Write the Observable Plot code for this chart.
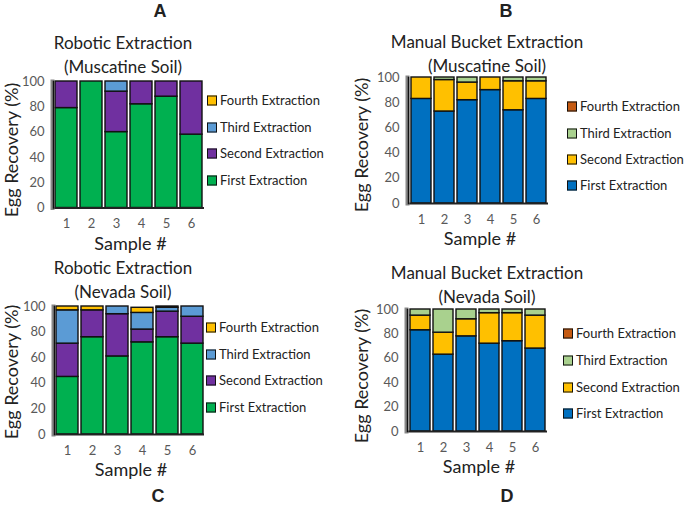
<!DOCTYPE html>
<html><head><meta charset="utf-8">
<script src="https://cdn.jsdelivr.net/npm/d3@7"></script>
<script src="https://cdn.jsdelivr.net/npm/@observablehq/plot@0.6"></script>
<style>
body{margin:0;background:#fff;}
#root{position:relative;width:685px;height:507px;overflow:hidden;font-family:Lato,"Open Sans",sans-serif;color:#222;}
.abs{position:absolute;white-space:nowrap;line-height:1;}
.letter{font-family:"Liberation Sans",Arial,sans-serif;font-weight:bold;font-size:18px;transform:translate(-50%,-50%);}
.title{font-size:17px;transform:translate(-50%,-50%);color:#222;}
.xl{font-size:18px;transform:translate(-50%,-50%);color:#222;}
.yl{font-size:18px;transform:translate(-50%,-50%) rotate(-90deg);color:#222;}
.leg{font-size:13px;color:#222;transform:translateY(-50%);display:flex;align-items:center;}
.sw{width:8px;height:8px;border:1px solid #111;margin-right:3px;display:inline-block;}
</style></head>
<body><div id="root"></div>
<script>
const samples = ["1","2","3","4","5","6"];
const seriesNames = ["First Extraction","Second Extraction","Third Extraction","Fourth Extraction"];
const roboticColors = ["#00B050","#7030A0","#5B9BD5","#FFC000"];
const manualColors = ["#0070C0","#FFC000","#A9D18E","#C55A11"];
const yTicks = [0,20,40,60,80,100];

// A: Robotic, Muscatine
const robMusFirst  = [79,100,60,82,88,58];
const robMusSecond = [21,0,32,18,12,42];
const robMusThird  = [0,0,8,0,0,0];
const robMusFourth = [0,0,0,0,0,0];
// B: Manual, Muscatine
const manMusFirst  = [83,73,82,90,74,83];
const manMusSecond = [17,25,14,10,23,14];
const manMusThird  = [0,2,4,0,3,3];
const manMusFourth = [0,0,0,0,0,0];
// C: Robotic, Nevada
const robNevFirst  = [45,76,61,72,76,71];
const robNevSecond = [26,21,33,10,20,21];
const robNevThird  = [26,0,6,13,3,8];
const robNevFourth = [3,3,0,4,1,0];
// D: Manual, Nevada
const manNevFirst  = [83,63,78,72,74,68];
const manNevSecond = [12,18,14,25,23,27];
const manNevThird  = [5,19,8,3,3,5];
const manNevFourth = [0,0,0,0,0,0];

const panels = [
  {letter:"A", lx:160, ly:11, title:["Robotic Extraction","(Muscatine Soil)"], tx:123, ty:42,
   series:[robMusFirst,robMusSecond,robMusThird,robMusFourth], colors:roboticColors,
   left:53, right:204, y0:207.5, y100:81, legX:207, legY:[100,127,153,180], ylx:11, yly:150},
  {letter:"B", lx:506, ly:11, title:["Manual Bucket Extraction","(Muscatine Soil)"], tx:487, ty:41,
   series:[manMusFirst,manMusSecond,manMusThird,manMusFourth], colors:manualColors,
   left:408, right:548, y0:203, y100:77, legX:567, legY:[106,133,159,185], ylx:361, yly:145},
  {letter:"C", lx:158, ly:496, title:["Robotic Extraction","(Nevada Soil)"], tx:123, ty:267,
   series:[robNevFirst,robNevSecond,robNevThird,robNevFourth], colors:roboticColors,
   left:54, right:204, y0:434, y100:306, legX:206, legY:[327,354,380,407], ylx:11, yly:372},
  {letter:"D", lx:507, ly:496, title:["Manual Bucket Extraction","(Nevada Soil)"], tx:487, ty:272,
   series:[manNevFirst,manNevSecond,manNevThird,manNevFourth], colors:manualColors,
   left:407, right:547, y0:431, y100:309, legX:563, legY:[333,360,387,413], ylx:361, yly:376}
];

const root = document.getElementById("root");
function addDiv(cls, x, y, html){
  const d = document.createElement("div");
  d.className = "abs " + cls;
  d.style.left = x + "px"; d.style.top = y + "px";
  d.innerHTML = html;
  root.appendChild(d);
  return d;
}

for (const p of panels) {
  const data = [];
  p.series.forEach((vals, si) => vals.forEach((v, i) => data.push({sample: samples[i], series: seriesNames[si], value: v})));
  const mL = 50, mT = 10, mR = 6, mB = 28;
  const chart = Plot.plot({
    width: (p.right - p.left) + mL + mR,
    height: (p.y0 - p.y100) + mT + mB,
    marginLeft: mL, marginTop: mT, marginRight: mR, marginBottom: mB,
    style: {fontFamily: "Lato, 'Open Sans', sans-serif", fontSize: "13px", background: "transparent", overflow: "visible"},
    x: {domain: samples, padding: 0.14, paddingOuter: 0.06, label: null},
    y: {domain: [0, 100], label: null},
    color: {domain: seriesNames, range: p.colors},
    marks: [
      Plot.barY(data, {x: "sample", y: "value", fill: "series", stroke: "#111", strokeWidth: 1.4}),
      Plot.ruleY([0], {stroke: "#222", strokeWidth: 2}),
      Plot.frame({anchor: "left", stroke: "#888", strokeWidth: 4, dx: -1}),
      Plot.frame({anchor: "left", stroke: "#111", strokeWidth: 1.5}),
      Plot.axisX({tickSize: 0, tickPadding: 11, fill: "#595959", fontSize: 13, label: null}),
      Plot.axisY({ticks: yTicks, tickSize: 0, tickPadding: 9, fill: "#595959", fontSize: 13, label: null})
    ]
  });
  chart.style.position = "absolute";
  chart.style.left = (p.left - mL) + "px";
  chart.style.top = (p.y100 - mT) + "px";
  root.appendChild(chart);

  addDiv("letter", p.lx, p.ly, p.letter);
  addDiv("title", p.tx, p.ty, p.title[0]);
  addDiv("title", p.tx, p.ty + 24, p.title[1]);
  addDiv("xl", (p.left + p.right) / 2 + 2, p.y0 + 35, "Sample #");
  addDiv("yl", p.ylx, p.yly, "Egg Recovery (%)");
  for (let k = 0; k < 4; k++) {
    const si = 3 - k;
    addDiv("leg", p.legX, p.legY[k], `<span class="sw" style="background:${p.colors[si]}"></span>${seriesNames[si]}`);
  }
}
</script>
</body></html>
